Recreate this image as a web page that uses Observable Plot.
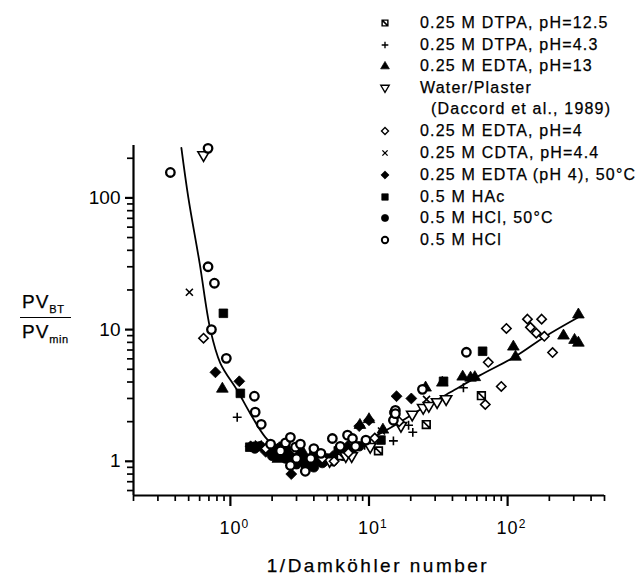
<!DOCTYPE html>
<html><head><meta charset="utf-8">
<script src="https://cdn.jsdelivr.net/npm/d3@7"></script>
<script src="https://cdn.jsdelivr.net/npm/@observablehq/plot@0.6"></script>
<style>
body{margin:0;background:#fff;}
#wrap{position:relative;width:636px;height:579px;font-family:"Liberation Sans",Arial,Helvetica,sans-serif;color:#000;overflow:hidden;}
#wrap svg.chart{position:absolute;left:0;top:0;}
.leg{position:absolute;font-size:16px;letter-spacing:1.2px;line-height:16px;white-space:nowrap;-webkit-text-stroke:0.25px #000;}
.legsym{position:absolute;}
.xlab{position:absolute;left:0;width:756px;text-align:center;top:556px;font-size:19px;line-height:19px;letter-spacing:2.5px;-webkit-text-stroke:0.25px #000;}
.ylab{position:absolute;left:20px;top:291px;font-size:19px;letter-spacing:1px;text-align:left;-webkit-text-stroke:0.25px #000;}
.ylab sub{font-size:11px;letter-spacing:0.5px;}
</style></head><body><div id="wrap"></div><script>
// ---------------- data ----------------
const seriesLabels = [
  "0.25 M DTPA, pH=12.5",
  "0.25 M DTPA, pH=4.3",
  "0.25 M EDTA, pH=13",
  "Water/Plaster",
  "0.25 M EDTA, pH=4",
  "0.25 M CDTA, pH=4.4",
  "0.25 M EDTA (pH 4), 50°C",
  "0.5 M HAc",
  "0.5 M HCl, 50°C",
  "0.5 M HCl"
];
const waterNote = "(Daccord et al., 1989)";

const dtpa125X = [6.3, 11.7, 25.9, 64.7];
const dtpa125Y = [1.1, 1.2, 1.9, 3.15];

const dtpa43X = [1.12, 2.35, 4.1, 6.6, 9.3, 15.0, 19.3, 20.7, 48.0];
const dtpa43Y = [2.16, 1.12, 1.03, 1.15, 1.32, 1.43, 1.88, 1.66, 3.62];

const edta13X = [0.875, 2.2, 2.6, 3.3, 4.3, 6.5, 8.6, 10.0, 12.6, 25.6, 33.8, 47.4, 54, 58, 110, 114, 253, 304, 324, 324];
const edta13Y = [3.58, 1.05, 1.22, 1.2, 1.15, 1.22, 1.9, 2.1, 1.75, 3.65, 3.98, 4.42, 4.34, 4.38, 7.47, 6.26, 9.06, 8.4, 8.0, 13.1];

const waterX = [0.64, 5.2, 6.8, 7.5, 10.2, 17, 20.5, 24.6, 27, 31, 36];
const waterY = [210, 1.0, 1.09, 1.09, 1.28, 1.85, 2.25, 2.53, 2.62, 2.8, 2.95];

const edta4X = [0.64, 1.8, 2.9, 4.6, 5.6, 7.1, 11, 16.5, 69, 72.5, 90, 98, 139, 146, 161, 176, 184, 211];
const edta4Y = [8.6, 1.25, 1.22, 1.05, 1.0, 1.16, 1.5, 2.0, 2.7, 5.65, 3.7, 10.2, 12.0, 10.4, 9.4, 12.0, 8.9, 6.7];

const cdtaX = [0.506, 1.45, 1.59, 1.75, 3.6, 5.1, 12.3, 26];
const cdtaY = [19.2, 1.3, 1.35, 1.28, 1.1, 1.08, 1.7, 2.95];

const edta50X = [0.78, 1.16, 1.4, 1.8, 2.2, 2.5, 2.75, 3.0, 3.4, 4.0, 4.5, 5.5, 6.2, 7.0, 8.5, 10.0, 15.8, 20.2];
const edta50Y = [4.74, 4.05, 1.3, 1.18, 1.25, 1.12, 0.80, 1.05, 1.05, 0.95, 1.08, 1.1, 1.18, 1.3, 1.85, 2.05, 3.12, 3.0];

const hacX = [0.89, 1.18, 1.38, 1.55, 2.1, 2.4, 2.9, 3.1, 3.5, 4.0, 4.6, 5.0, 6.0, 12.2, 34.5, 66];
const hacY = [13.3, 3.28, 1.28, 1.3, 1.25, 1.3, 0.95, 1.1, 0.9, 1.1, 1.0, 1.05, 1.2, 1.45, 4.05, 6.85];

const hcl50X = [1.5, 1.65, 1.9, 2.0, 2.1, 2.3, 2.5, 2.6, 2.8, 3.0, 3.2, 3.3, 3.5, 3.7, 4.0, 4.2, 4.6, 5.0, 5.5, 6.0, 6.5, 7.6, 8.5, 9.5, 15.2];
const hcl50Y = [1.25, 1.3, 1.25, 1.1, 1.2, 1.15, 1.05, 1.2, 1.1, 0.95, 1.12, 1.0, 0.92, 0.98, 0.9, 1.02, 0.97, 1.05, 1.0, 1.12, 1.1, 1.25, 1.3, 1.4, 2.35];

const hclX = [0.369, 0.69, 0.69, 0.767, 0.73, 0.935, 1.49, 1.51, 1.67, 1.95, 2.3, 2.5, 2.71, 2.71, 2.95, 3.0, 3.2, 3.47, 3.8, 4.0, 4.5, 5.44, 6.2, 7.0, 7.6, 8.0, 9.5, 15.0, 15.5, 15.5, 24.3, 50.4];
const hclY = [156, 238, 30, 22.5, 10, 6.05, 3.12, 2.36, 1.91, 1.35, 1.2, 1.38, 1.52, 0.93, 1.28, 1.05, 1.35, 0.84, 1.05, 1.25, 1.15, 1.49, 1.3, 1.58, 1.49, 1.3, 1.45, 2.05, 2.44, 2.3, 3.52, 6.73];

// fitted curve
const fitX = [0.443, 0.497, 0.6, 0.717, 0.847, 1.12, 1.39, 1.79, 2.4, 3.2, 4.2, 6, 9, 14.3, 24.6, 38.6, 63, 114, 188, 324];
const fitY = [240, 101, 32, 10.0, 5.55, 3.46, 2.31, 1.52, 1.15, 1.0, 0.98, 1.12, 1.38, 1.8, 2.55, 3.34, 4.49, 6.26, 8.9, 12.4];

const xMajorTicks = [1, 10, 100];
const xTickExponents = ["0", "1", "2"];
const yMajorTicks = [1, 10, 100];
const yTickLabels = ["1", "10", "100"];
const xLabel = "1/Damköhler number";

// ---------------- symbols ----------------
const slashSquare = {draw(ctx, size) {
  const w = Math.sqrt(size) * 0.45;
  ctx.moveTo(-w, -w); ctx.lineTo(w, -w); ctx.lineTo(w, w); ctx.lineTo(-w, w); ctx.closePath();
  ctx.moveTo(-w, -w); ctx.lineTo(w, w);
}};
const triDown = {draw(ctx, size) {
  const r = Math.sqrt(size) * 0.62;
  ctx.moveTo(0, r); ctx.lineTo(-r * 0.95, -r * 0.62); ctx.lineTo(r * 0.95, -r * 0.62); ctx.closePath();
}};
const triUp = {draw(ctx, size) {
  const r = Math.sqrt(size) * 0.62;
  ctx.moveTo(0, -r); ctx.lineTo(-r * 0.95, r * 0.62); ctx.lineTo(r * 0.95, r * 0.62); ctx.closePath();
}};
const diamond = {draw(ctx, size) {
  const r = Math.sqrt(size) * 0.55;
  ctx.moveTo(0, -r); ctx.lineTo(r, 0); ctx.lineTo(0, r); ctx.lineTo(-r, 0); ctx.closePath();
}};
const squareS = {draw(ctx, size) {
  const w = Math.sqrt(size) * 0.45;
  ctx.rect(-w, -w, 2 * w, 2 * w);
}};
const plusS = {draw(ctx, size) {
  const r = Math.sqrt(size) * 0.5;
  ctx.moveTo(-r, 0); ctx.lineTo(r, 0); ctx.moveTo(0, -r); ctx.lineTo(0, r);
}};
const timesS = {draw(ctx, size) {
  const r = Math.sqrt(size) * 0.38;
  ctx.moveTo(-r, -r); ctx.lineTo(r, r); ctx.moveTo(r, -r); ctx.lineTo(-r, r);
}};
const circleS = {draw(ctx, size) {
  const r = Math.sqrt(size) * 0.5;
  ctx.moveTo(r, 0); ctx.arc(0, 0, r, 0, 2 * Math.PI);
}};

// style per series (index matches seriesLabels)
const styles = [
  {symbol: slashSquare, r: 4.8, fill: "white", stroke: "black", strokeWidth: 1.7},
  {symbol: plusS, r: 5, fill: "none", stroke: "black", strokeWidth: 1.6},
  {symbol: triUp, r: 5.6, fill: "black", stroke: "black", strokeWidth: 0.8},
  {symbol: triDown, r: 5.4, fill: "white", stroke: "black", strokeWidth: 1.6},
  {symbol: diamond, r: 4.8, fill: "white", stroke: "black", strokeWidth: 1.6},
  {symbol: timesS, r: 5.2, fill: "none", stroke: "black", strokeWidth: 1.6},
  {symbol: diamond, r: 5.6, fill: "black", stroke: "black", strokeWidth: 0.8},
  {symbol: squareS, r: 5.4, fill: "black", stroke: "black", strokeWidth: 0.8},
  {symbol: circleS, r: 5.4, fill: "black", stroke: "black", strokeWidth: 0.8},
  {symbol: circleS, r: 4.8, fill: "white", stroke: "black", strokeWidth: 2.3}
];
const seriesXY = [
  [dtpa125X, dtpa125Y], [dtpa43X, dtpa43Y], [edta13X, edta13Y], [waterX, waterY],
  [edta4X, edta4Y], [cdtaX, cdtaY], [edta50X, edta50Y], [hacX, hacY],
  [hcl50X, hcl50Y], [hclX, hclY]
];
const drawOrder = [8, 6, 7, 2, 5, 1, 0, 3, 4, 9];

const fitData = fitX.map((x, i) => ({x, y: fitY[i]}));

// minor ticks
const xMinor = [], yMinor = [];
for (const d of [0.1, 1, 10, 100]) for (let k = 2; k <= 9; k++) { const v = d * k; if (v >= 0.2 && v <= 500) xMinor.push(v); }
for (const d of [0.1, 1, 10, 100]) for (let k = 2; k <= 9; k++) { const v = d * k; if (v >= 0.55 && v <= 250) yMinor.push(v); }

const dotMarks = drawOrder.map(i => {
  const [xs, ys] = seriesXY[i];
  const data = xs.map((x, j) => ({x, y: ys[j]}));
  const s = styles[i];
  return Plot.dot(data, {x: "x", y: "y", symbol: s.symbol, r: s.r, fill: s.fill, stroke: s.stroke, strokeWidth: s.strokeWidth});
});

const chart = Plot.plot({
  width: 636, height: 579,
  marginLeft: 133, marginRight: 32, marginTop: 145, marginBottom: 84,
  style: {fontFamily: '"Liberation Sans", Arial, Helvetica, sans-serif', color: "black", background: "transparent", overflow: "visible"},
  x: {type: "log", domain: [0.2, 500]},
  y: {type: "log", domain: [0.55, 250]},
  marks: [
    Plot.axisX(xMinor, {tickSize: 6, tickFormat: () => "", strokeWidth: 1.7, label: null}),
    Plot.axisX(xMajorTicks, {tickSize: 11, tickPadding: 15, fontSize: 18, strokeWidth: 2.2, label: null,
      tickFormat: d => "10|" + xTickExponents[xMajorTicks.indexOf(d)]}),
    Plot.axisY(yMinor, {tickSize: 6, tickFormat: () => "", strokeWidth: 1.7, label: null}),
    Plot.axisY(yMajorTicks, {tickSize: 8, tickPadding: 5, fontSize: 19, strokeWidth: 2.2, label: null,
      tickFormat: d => yTickLabels[yMajorTicks.indexOf(d)]}),
    Plot.ruleX([0.2], {strokeWidth: 2.2}),
    Plot.ruleY([0.55], {strokeWidth: 2.2}),
    Plot.line(fitData, {x: "x", y: "y", curve: "catmull-rom", strokeWidth: 1.8, stroke: "black"}),
    ...dotMarks
  ]
});
chart.classList.add("chart");
const wrap = document.getElementById("wrap");
wrap.appendChild(chart);

// superscript exponents on x tick labels
d3.select(chart).selectAll("text").each(function() {
  const t = this.textContent;
  if (t.includes("|")) {
    const [base, exp] = t.split("|");
    const sel = d3.select(this);
    sel.text(null).attr("text-anchor", "start").attr("dx", "-11px").style("letter-spacing", "1px");
    sel.append("tspan").text(base);
    sel.append("tspan").attr("dy", "-0.5em").attr("font-size", "12px").text(exp);
  }
});

// legend (HTML)
const legendRows = [23, 45, 66, 88, 131, 153, 175, 197, 218, 240];
seriesLabels.forEach((lab, i) => {
  const s = styles[i];
  const top = legendRows[i];
  const ns = "http://www.w3.org/2000/svg";
  const svg = document.createElementNS(ns, "svg");
  svg.setAttribute("width", 16); svg.setAttribute("height", 16);
  svg.setAttribute("class", "legsym");
  svg.style.left = (385 - 8) + "px"; svg.style.top = (top - 8) + "px";
  const p = document.createElementNS(ns, "path");
  p.setAttribute("transform", "translate(8,8)");
  p.setAttribute("d", d3.symbol().type(s.symbol).size(Math.PI * (s.r * 0.75) ** 2)());
  p.setAttribute("fill", s.fill); p.setAttribute("stroke", s.stroke);
  p.setAttribute("stroke-width", s.strokeWidth * 0.85);
  svg.appendChild(p);
  wrap.appendChild(svg);
  const d = document.createElement("div");
  d.className = "leg"; d.textContent = lab;
  d.style.left = "420px"; d.style.top = (top - 8) + "px";
  wrap.appendChild(d);
});
const note = document.createElement("div");
note.className = "leg"; note.textContent = waterNote;
note.style.left = "431px"; note.style.top = (109 - 8) + "px";
wrap.appendChild(note);

// axis titles (HTML)
const xl = document.createElement("div");
xl.className = "xlab"; xl.textContent = xLabel;
wrap.appendChild(xl);
const yl = document.createElement("div");
yl.className = "ylab";
yl.innerHTML = '<div style="padding:0 2px 2px 2px">PV<sub>BT</sub></div>' +
  '<div style="border-top:1.5px solid #000;padding:3px 2px 0 2px">PV<sub>min</sub></div>';
wrap.appendChild(yl);
</script></body></html>
